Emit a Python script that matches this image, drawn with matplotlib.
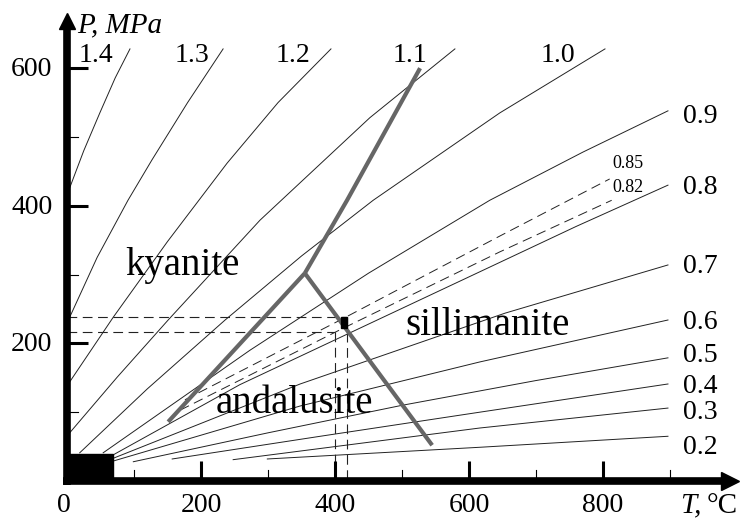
import numpy as np
import matplotlib
matplotlib.use("Agg")
import matplotlib.pyplot as plt
from matplotlib.patches import Rectangle

plt.rcParams["font.family"] = ["Liberation Serif", "DejaVu Serif"]
plt.rcParams["lines.scale_dashes"] = False

# isolines (ratio value, T in degC, P in MPa)
iso_labels = ["1.4", "1.3", "1.2", "1.1", "1.0", "0.9", "0.85", "0.82",
              "0.8", "0.7", "0.6", "0.5", "0.4", "0.3", "0.2"]
iso_T = [
    [4, 25, 49, 72, 94],
    [4, 45, 91, 127, 180, 233],
    [4, 69, 150, 239, 315, 394],
    [4, 75, 151, 288, 452, 579],
    [19, 120, 236, 350, 457, 646, 803],
    [54, 273, 450, 631, 770, 897],
    [176, 408, 646, 810],
    [169, 408, 646, 813],
    [69, 258, 450, 616, 760, 897],
    [69, 348, 654, 897],
    [69, 348, 616, 897],
    [99, 300, 500, 700, 897],
    [157, 378, 616, 897],
    [248, 616, 897],
    [299, 616, 897],
]
iso_P = [
    [426, 480, 535, 586, 628],
    [238, 325, 408, 467, 550, 628],
    [144, 238, 348, 462, 550, 628],
    [70, 151, 234, 379, 528, 628],
    [41, 134, 234, 327, 408, 535, 628],
    [41, 190, 302, 408, 478, 538],
    [118, 234, 356, 439],
    [103, 220, 333, 408],
    [38, 140, 228, 304, 370, 430],
    [33, 141, 244, 314],
    [29, 109, 173, 234],
    [28, 70, 110, 146, 179],
    [32, 65, 100, 141],
    [31, 77, 106],
    [32, 49, 65],
]
dashed = {"0.85", "0.82"}
# where each isoline label sits (T, P)
lab_T = [43, 187, 337, 512, 733, 945, 837, 837, 945, 945, 945, 945, 945, 945, 945]
lab_P = [619, 619, 619, 619, 619, 530, 461, 426, 426, 312, 231, 182, 138, 99, 49]

# Al2SiO5 phase boundaries
ky_sil_T, ky_sil_P = [355, 418, 527], [302, 408, 600]
ky_and_T, ky_and_P = [151, 355], [86, 302]
and_sil_T, and_sil_P = [355, 545], [302, 52]

# estimate with its bounds
T_lo, T_hi = 400, 418
P_lo, P_hi = 217, 238

regions = ["kyanite", "sillimanite", "andalusite"]
reg_T = [173, 627, 340]
reg_P = [299, 212, 99]

P_major, P_minor = [200, 400, 600], [100, 300, 500]
T_major, T_minor = [200, 400, 600, 800], [100, 300, 500, 700, 900]

fig = plt.figure(figsize=(7.43, 5.22), dpi=100)
ax = fig.add_axes([0, 0, 1, 1])
ax.set_xlim(-100, 1009)
ax.set_ylim(-59.6, 699.1)
ax.axis("off")

for lab, t, p, lt, lp in zip(iso_labels, iso_T, iso_P, lab_T, lab_P):
    if lab in dashed:
        ax.plot(t, p, color="#222", lw=0.7, dashes=(7, 4), zorder=2)
        ax.text(lt, lp, lab, fontsize=13, ha="center", va="center")
    else:
        ax.plot(t, p, color="#222", lw=0.7, zorder=2)
        ax.text(lt, lp, lab, fontsize=20, ha="center", va="center")

# error cross
dk = dict(color="#222", lw=0.8, dashes=(7, 4), zorder=2)
ax.plot([0, T_hi], [P_hi, P_hi], **dk)
ax.plot([0, T_lo], [P_lo, P_lo], **dk)
ax.plot([T_lo, T_lo], [P_lo, 0], **dk)
ax.plot([T_hi, T_hi], [P_hi, 0], **dk)
ax.add_patch(Rectangle((T_hi - 9, P_hi - 15), 9, 15, color="black", zorder=4))

gray = "#666666"
for t, p in [(ky_sil_T, ky_sil_P), (ky_and_T, ky_and_P), (and_sil_T, and_sil_P)]:
    ax.plot(t, p, color=gray, lw=3, solid_capstyle="butt", zorder=3)

for name, t, p in zip(regions, reg_T, reg_P):
    ax.text(t, p, name, fontsize=28, ha="center", va="baseline", zorder=5)

# axes with arrows
ax.plot([0, 0], [-6, 665], color="black", lw=5.5, solid_capstyle="butt", zorder=6)
ax.plot([0], [668], marker="^", ms=12, color="black", zorder=6)
ax.plot([-6, 985], [0, 0], color="black", lw=5.5, solid_capstyle="butt", zorder=6)
ax.plot([989], [0], marker=">", ms=13, color="black", zorder=6)
ax.add_patch(Rectangle((0, 0), 69, 39, color="black", zorder=6))

for p in P_major:
    ax.plot([0, 31], [p, p], color="black", lw=2.2, solid_capstyle="butt", zorder=6)
    ax.text(-22, p - 2, str(p), fontsize=20, ha="right", va="center")
for p in P_minor:
    ax.plot([0, 16], [p, p], color="black", lw=0.8, zorder=6)
for t in T_major:
    ax.plot([t, t], [0, 29], color="black", lw=2.2, solid_capstyle="butt", zorder=6)
    ax.text(t, -35, str(t), fontsize=20, ha="center", va="center")
for t in T_minor:
    ax.plot([t, t], [0, 16], color="black", lw=0.8, zorder=6)
ax.text(-4, -35, "0", fontsize=20, ha="center", va="center")

ax.text(15, 652, "P, MPa", fontsize=21, style="italic", ha="left", va="baseline")
ax.text(915, -46, "T,", fontsize=21, style="italic", ha="left", va="baseline")
ax.text(955, -46, "°C", fontsize=21, ha="left", va="baseline")

fig.savefig("out.png", dpi=100)
